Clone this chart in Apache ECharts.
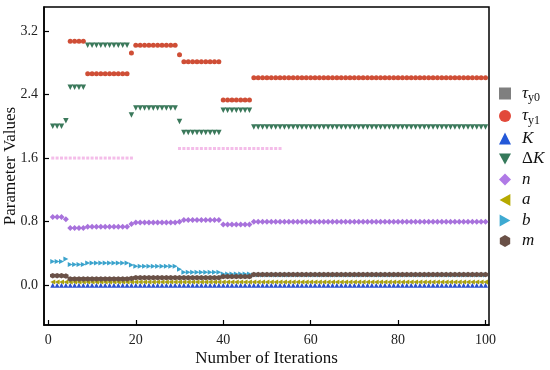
<!DOCTYPE html>
<html>
<head>
<meta charset="utf-8">
<script src="https://cdn.jsdelivr.net/npm/echarts@6/dist/echarts.min.js"></script>
<style>html,body{margin:0;padding:0;background:#fff}#c{width:550px;height:370px}</style>
</head>
<body>
<div id="c"></div>
<script>
// iteration numbers 1..100
const iterations = Array.from({length: 100}, (_, i) => i + 1);
const xTicks = [0, 20, 40, 60, 80, 100];
const yTicks = [0, 0.8, 1.6, 2.4, 3.2];
const seriesNames = ['τy0', 'τy1', 'K', 'ΔK', 'n', 'a', 'b', 'm'];

const tauY0 = [
  1.60,1.60,1.60,1.60,1.60,1.60,1.60,1.60,1.60,1.60,
  1.60,1.60,1.60,1.60,1.60,1.60,1.60,1.60,1.60,null,
  null,null,null,null,null,null,null,null,null,1.72,
  1.72,1.72,1.72,1.72,1.72,1.72,1.72,1.72,1.72,1.72,
  1.72,1.72,1.72,1.72,1.72,1.72,1.72,1.72,1.72,1.72,
  1.72,1.72,1.72,null,null,null,null,null,null,null,
  null,null,null,null,null,null,null,null,null,null,
  null,null,null,null,null,null,null,null,null,null,
  null,null,null,null,null,null,null,null,null,null,
  null,null,null,null,null,null,null,null,null,null
];
const tauY1 = [
  null,null,null,null,3.07,3.07,3.07,3.07,2.66,2.66,
  2.66,2.66,2.66,2.66,2.66,2.66,2.66,2.66,2.92,3.02,
  3.02,3.02,3.02,3.02,3.02,3.02,3.02,3.02,3.02,2.90,
  2.81,2.81,2.81,2.81,2.81,2.81,2.81,2.81,2.81,2.33,
  2.33,2.33,2.33,2.33,2.33,2.33,2.61,2.61,2.61,2.61,
  2.61,2.61,2.61,2.61,2.61,2.61,2.61,2.61,2.61,2.61,
  2.61,2.61,2.61,2.61,2.61,2.61,2.61,2.61,2.61,2.61,
  2.61,2.61,2.61,2.61,2.61,2.61,2.61,2.61,2.61,2.61,
  2.61,2.61,2.61,2.61,2.61,2.61,2.61,2.61,2.61,2.61,
  2.61,2.61,2.61,2.61,2.61,2.61,2.61,2.61,2.61,2.61
];
const K = [
  0,0,0,0,0,0,0,0,0,0, 0,0,0,0,0,0,0,0,0,0,
  0,0,0,0,0,0,0,0,0,0, 0,0,0,0,0,0,0,0,0,0,
  0,0,0,0,0,0,0,0,0,0, 0,0,0,0,0,0,0,0,0,0,
  0,0,0,0,0,0,0,0,0,0, 0,0,0,0,0,0,0,0,0,0,
  0,0,0,0,0,0,0,0,0,0, 0,0,0,0,0,0,0,0,0,0
];
const deltaK = [
  2.00,2.00,2.00,2.07,2.49,2.49,2.49,2.49,3.02,3.02,
  3.02,3.02,3.02,3.02,3.02,3.02,3.02,3.02,2.14,2.23,
  2.23,2.23,2.23,2.23,2.23,2.23,2.23,2.23,2.23,2.06,
  1.92,1.92,1.92,1.92,1.92,1.92,1.92,1.92,1.92,2.20,
  2.20,2.20,2.20,2.20,2.20,2.20,1.99,1.99,1.99,1.99,
  1.99,1.99,1.99,1.99,1.99,1.99,1.99,1.99,1.99,1.99,
  1.99,1.99,1.99,1.99,1.99,1.99,1.99,1.99,1.99,1.99,
  1.99,1.99,1.99,1.99,1.99,1.99,1.99,1.99,1.99,1.99,
  1.99,1.99,1.99,1.99,1.99,1.99,1.99,1.99,1.99,1.99,
  1.99,1.99,1.99,1.99,1.99,1.99,1.99,1.99,1.99,1.99
];
const nVals = [
  0.86,0.86,0.86,0.83,0.72,0.72,0.72,0.72,0.735,0.735,
  0.735,0.735,0.735,0.735,0.735,0.735,0.735,0.735,0.77,0.79,
  0.79,0.79,0.79,0.79,0.79,0.79,0.79,0.79,0.79,0.80,
  0.82,0.82,0.82,0.82,0.82,0.82,0.82,0.82,0.82,0.765,
  0.765,0.765,0.765,0.765,0.765,0.765,0.80,0.80,0.80,0.80,
  0.80,0.80,0.80,0.80,0.80,0.80,0.80,0.80,0.80,0.80,
  0.80,0.80,0.80,0.80,0.80,0.80,0.80,0.80,0.80,0.80,
  0.80,0.80,0.80,0.80,0.80,0.80,0.80,0.80,0.80,0.80,
  0.80,0.80,0.80,0.80,0.80,0.80,0.80,0.80,0.80,0.80,
  0.80,0.80,0.80,0.80,0.80,0.80,0.80,0.80,0.80,0.80
];
const aVals = [
  0.04,0.04,0.04,0.04,0.04,0.04,0.04,0.04,0.04,0.04,
  0.04,0.04,0.04,0.04,0.04,0.04,0.04,0.04,0.04,0.04,
  0.04,0.04,0.04,0.04,0.04,0.04,0.04,0.04,0.04,0.04,
  0.04,0.04,0.04,0.04,0.04,0.04,0.04,0.04,0.04,0.04,
  0.04,0.04,0.04,0.04,0.04,0.04,0.04,0.04,0.04,0.04,
  0.04,0.04,0.04,0.04,0.04,0.04,0.04,0.04,0.04,0.04,
  0.04,0.04,0.04,0.04,0.04,0.04,0.04,0.04,0.04,0.04,
  0.04,0.04,0.04,0.04,0.04,0.04,0.04,0.04,0.04,0.04,
  0.04,0.04,0.04,0.04,0.04,0.04,0.04,0.04,0.04,0.04,
  0.04,0.04,0.04,0.04,0.04,0.04,0.04,0.04,0.04,0.04
];
const bVals = [
  0.30,0.30,0.30,0.33,0.26,0.26,0.26,0.26,0.28,0.28,
  0.28,0.28,0.28,0.28,0.28,0.28,0.28,0.28,0.255,0.24,
  0.24,0.24,0.24,0.24,0.24,0.24,0.24,0.24,0.24,0.20,
  0.165,0.165,0.165,0.165,0.165,0.165,0.165,0.165,0.165,0.14,
  0.14,0.14,0.14,0.14,0.14,0.14,0.13,0.13,0.13,0.13,
  0.13,0.13,0.13,0.13,0.13,0.13,0.13,0.13,0.13,0.13,
  0.13,0.13,0.13,0.13,0.13,0.13,0.13,0.13,0.13,0.13,
  0.13,0.13,0.13,0.13,0.13,0.13,0.13,0.13,0.13,0.13,
  0.13,0.13,0.13,0.13,0.13,0.13,0.13,0.13,0.13,0.13,
  0.13,0.13,0.13,0.13,0.13,0.13,0.13,0.13,0.13,0.13
];
const mVals = [
  0.12,0.12,0.12,0.115,0.08,0.08,0.08,0.08,0.08,0.08,
  0.08,0.08,0.08,0.08,0.08,0.08,0.08,0.08,0.085,0.095,
  0.095,0.095,0.095,0.095,0.095,0.095,0.095,0.095,0.095,0.095,
  0.095,0.095,0.095,0.095,0.095,0.095,0.095,0.095,0.095,0.11,
  0.11,0.11,0.11,0.11,0.11,0.11,0.135,0.135,0.135,0.135,
  0.135,0.135,0.135,0.135,0.135,0.135,0.135,0.135,0.135,0.135,
  0.135,0.135,0.135,0.135,0.135,0.135,0.135,0.135,0.135,0.135,
  0.135,0.135,0.135,0.135,0.135,0.135,0.135,0.135,0.135,0.135,
  0.135,0.135,0.135,0.135,0.135,0.135,0.135,0.135,0.135,0.135,
  0.135,0.135,0.135,0.135,0.135,0.135,0.135,0.135,0.135,0.135
];

const valueArrays = [tauY0, tauY1, K, deltaK, nVals, aVals, bVals, mVals];
const colors = ['#f4bde9', '#cf4e36', '#2c50cf', '#3b795b', '#a872dc', '#a9a111', '#3ba3cc', '#6a5147'];
const legendColors = ['#7f7f7f', '#e2493a', '#2358d8', '#35795a', '#b07ae6', '#b6a900', '#3eaad2', '#6a5147'];
const symbols = [
  'rect', 'circle', 'triangle',
  'path://M0,0L10,0L5,9Z',
  'diamond',
  'path://M10,0L10,10L1,5Z',
  'path://M0,0L9,5L0,10Z',
  'path://M5,0L9.33,2.5L9.33,7.5L5,10L0.67,7.5L0.67,2.5Z'
];
const sizes = [3, 5, 5, 5.5, 6, 5, 5, 5.5];

const serif = 'Liberation Serif, Times New Roman, serif';
const labelMap = {
  'τy0': '{it|τ}{sub|y0}',
  'τy1': '{it|τ}{sub|y1}',
  'K': '{it|K}',
  'ΔK': '{up|Δ}{it|K}',
  'n': '{it|n}', 'a': '{it|a}', 'b': '{it|b}', 'm': '{it|m}'
};

const chart = echarts.init(document.getElementById('c'), null, {renderer: 'canvas'});
chart.setOption({
  animation: false,
  backgroundColor: '#fff',
  grid: {left: 44, right: 61, top: 7, bottom: 45, outerBoundsMode: 'none', containLabel: false,
         show: true, borderColor: '#000', borderWidth: 1.5, backgroundColor: 'transparent'},
  legend: {
    orient: 'vertical', left: 494, top: 80, itemWidth: 12, itemHeight: 12, itemGap: 3.5,
    data: seriesNames.map((nm, i) => ({name: nm, icon: symbols[i], itemStyle: {color: legendColors[i]}})),
    formatter: nm => labelMap[nm],
    textStyle: {
      color: '#111', fontFamily: serif, fontSize: 17, padding: [0, 0, 0, 6],
      rich: {
        it: {fontFamily: serif, fontStyle: 'italic', fontSize: 17, color: '#111'},
        up: {fontFamily: serif, fontSize: 17, color: '#111'},
        sub: {fontFamily: serif, fontSize: 12, color: '#111', padding: [9, 0, 0, 0]}
      }
    }
  },
  xAxis: {
    type: 'value', min: -1, max: 100.8,
    name: 'Number of Iterations', nameLocation: 'middle', nameGap: 25, nameMoveOverlap: false,
    nameTextStyle: {fontFamily: serif, fontSize: 17, color: '#111'},
    axisLine: {show: true, onZero: false, lineStyle: {color: '#000', width: 1.5}},
    axisTick: {show: true, inside: true, length: 5, customValues: xTicks, lineStyle: {color: '#000', width: 1.2}},
    axisLabel: {customValues: xTicks, fontFamily: serif, fontSize: 14, color: '#222', margin: 8},
    splitLine: {show: false}
  },
  yAxis: {
    type: 'value', min: -0.5, max: 3.5,
    name: 'Parameter Values', nameLocation: 'middle', nameGap: 25, nameRotate: 90, nameMoveOverlap: false,
    nameTextStyle: {fontFamily: serif, fontSize: 17, color: '#111'},
    axisLine: {show: true, onZero: false, lineStyle: {color: '#000', width: 1.5}},
    axisTick: {show: true, inside: true, length: 5, customValues: yTicks, lineStyle: {color: '#000', width: 1.2}},
    axisLabel: {customValues: yTicks, fontFamily: serif, fontSize: 14, color: '#222', margin: 6, formatter: v => v.toFixed(1)},
    splitLine: {show: false}
  },
  series: seriesNames.map((nm, i) => ({
    name: nm, type: 'scatter',
    symbol: symbols[i], symbolSize: sizes[i],
    itemStyle: {color: colors[i], opacity: 1},
    data: iterations.map((x, j) => [x, valueArrays[i][j]]).filter(p => p[1] !== null)
  }))
});
</script>
</body>
</html>
